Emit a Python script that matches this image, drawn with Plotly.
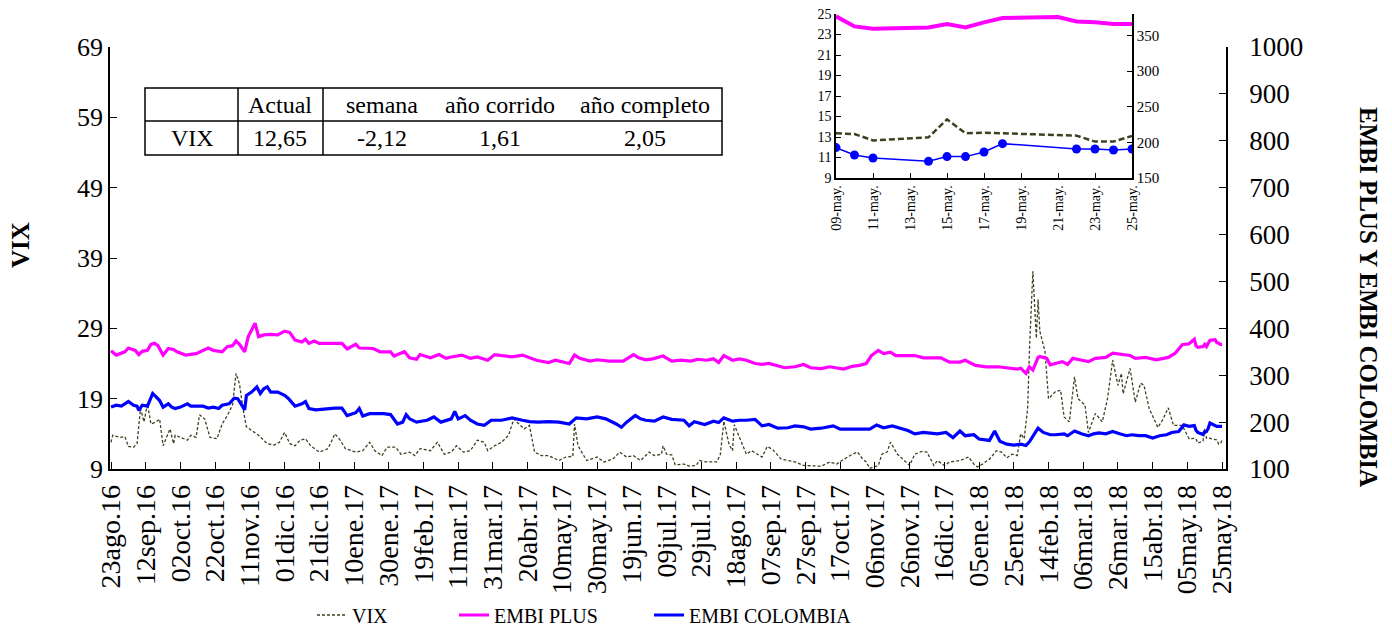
import pandas as pd
import plotly.graph_objects as go

# ---------------- data ----------------
BASE = "2016-08-23"  # day 0 of the series

embi_plus_day = [0, 3, 8, 10, 14, 16, 18, 21, 23, 25, 27, 30, 33, 36, 38, 43, 49, 53, 56, 59, 64, 67, 70, 72, 74, 77, 79, 83, 85, 88, 92, 96, 100, 103, 106, 110, 112, 114, 117, 120, 133, 136, 141, 143, 151, 155, 161, 163, 169, 172, 176, 178, 184, 189, 193, 196, 202, 207, 211, 217, 221, 231, 237, 245, 252, 256, 264, 267, 270, 276, 280, 287, 295, 301, 304, 308, 312, 318, 323, 328, 334, 338, 343, 347, 350, 353, 358, 362, 366, 371, 375, 379, 384, 388, 394, 399, 403, 409, 414, 418, 422, 427, 431, 435, 438, 442, 445, 449, 452, 463, 468, 478, 483, 489, 492, 498, 504, 511, 516, 522, 524, 527, 529, 531, 534, 535, 539, 541, 545, 548, 551, 554, 558, 563, 567, 573, 577, 583, 587, 590, 596, 602, 609, 613, 617, 621, 624, 625, 626, 629, 630, 631, 632, 633, 636, 637, 638, 639, 640]
embi_plus = [352, 343, 350, 358, 353, 344, 351, 353, 366, 368, 363, 343, 357, 355, 350, 343, 346, 353, 358, 353, 350, 361, 363, 373, 366, 350, 382, 411, 382, 386, 387, 386, 394, 391, 375, 371, 377, 368, 373, 368, 368, 356, 366, 358, 357, 350, 350, 341, 350, 337, 334, 344, 337, 344, 336, 339, 343, 336, 339, 332, 344, 339, 343, 332, 327, 332, 325, 343, 336, 330, 333, 330, 330, 344, 337, 333, 335, 341, 330, 332, 330, 334, 332, 335, 327, 342, 332, 335, 332, 325, 323, 325, 320, 316, 318, 323, 316, 314, 318, 316, 313, 319, 321, 325, 342, 353, 346, 349, 342, 342, 337, 337, 328, 328, 332, 321, 318, 318, 315, 313, 315, 304, 318, 311, 338, 340, 336, 322, 326, 329, 323, 336, 333, 329, 336, 338, 347, 344, 342, 336, 338, 333, 338, 347, 365, 367, 376.7, 362.6, 359.4, 361.2, 366.0, 361.2, 368.3, 374.4, 375.7, 369.6, 368.3, 366.0, 366.0]

embi_col_day = [0, 3, 6, 10, 13, 15, 16, 18, 21, 23, 24, 26, 28, 30, 33, 35, 37, 40, 44, 46, 49, 53, 56, 59, 62, 64, 68, 71, 73, 75, 77, 78, 81, 84, 86, 88, 90, 92, 96, 100, 102, 106, 110, 112, 114, 118, 125, 129, 133, 136, 141, 143, 145, 149, 157, 161, 165, 168, 170, 172, 176, 182, 186, 190, 196, 198, 200, 204, 207, 211, 215, 219, 225, 231, 237, 241, 246, 252, 258, 264, 268, 274, 280, 285, 291, 294, 297, 302, 305, 308, 313, 318, 323, 330, 333, 336, 342, 347, 350, 353, 358, 362, 366, 371, 375, 379, 384, 390, 394, 399, 403, 409, 416, 420, 427, 433, 437, 441, 445, 450, 455, 459, 463, 468, 476, 481, 485, 489, 492, 497, 500, 506, 509, 512, 516, 520, 524, 527, 529, 532, 534, 537, 541, 544, 549, 551, 555, 559, 563, 566, 569, 573, 577, 581, 585, 588, 592, 596, 600, 604, 608, 611, 615, 618, 621, 624, 625, 626, 629, 630, 631, 632, 633, 637, 638, 639, 640]
embi_col = [232, 236, 234, 244, 236, 234, 225, 236, 234, 250, 261, 254, 246, 232, 239, 232, 229, 232, 239, 234, 234, 234, 230, 232, 229, 236, 239, 251, 250, 239, 226, 257, 264, 275, 261, 271, 275, 264, 264, 257, 251, 234, 239, 244, 229, 226, 229, 230, 230, 214, 220, 229, 213, 218, 218, 216, 196, 200, 216, 207, 200, 204, 211, 200, 207, 223, 207, 214, 204, 196, 193, 204, 204, 209, 204, 201, 200, 201, 200, 196, 209, 207, 211, 207, 196, 189, 200, 214, 207, 204, 202, 211, 206, 204, 192, 201, 195, 202, 199, 209, 202, 204, 204, 206, 192, 195, 187, 188, 192, 190, 185, 187, 192, 185, 185, 185, 185, 194, 188, 192, 187, 182, 175, 178, 175, 178, 167, 181, 171, 173, 164, 161, 181, 159, 153, 151, 153, 150, 158, 175, 187, 178, 173, 173, 175, 171, 181, 175, 171, 175, 177, 175, 180, 175, 171, 173, 171, 171, 166, 171, 173, 178, 180, 194, 191, 192.6, 182.3, 178.1, 173.4, 180.0, 180.0, 186.5, 198.2, 190.7, 190.7, 189.3, 190.7]

vix_day = [0, 1, 5, 8, 10, 13, 15, 17, 19, 21, 23, 26, 28, 30, 32, 34, 36, 37, 40, 44, 46, 49, 51, 54, 57, 61, 64, 67, 70, 72, 74, 76, 78, 81, 85, 90, 94, 97, 100, 103, 106, 109, 112, 115, 120, 125, 129, 132, 135, 141, 145, 149, 152, 156, 159, 164, 167, 172, 175, 178, 184, 188, 192, 196, 199, 203, 207, 211, 215, 217, 221, 225, 229, 232, 235, 238, 241, 244, 248, 252, 258, 262, 266, 267, 269, 274, 280, 284, 289, 293, 297, 301, 305, 310, 313, 317, 318, 320, 323, 325, 330, 333, 337, 339, 343, 347, 349, 351, 353, 356, 358, 359, 362, 364, 366, 369, 372, 375, 378, 381, 386, 390, 394, 399, 405, 409, 414, 418, 421, 427, 430, 433, 435, 437, 442, 444, 447, 449, 453, 457, 460, 463, 467, 470, 474, 476, 480, 483, 489, 494, 497, 499, 502, 506, 510, 513, 516, 519, 522, 524, 526, 528, 529, 531, 533, 534, 535, 538, 540, 544, 547, 549, 552, 555, 557, 561, 563, 567, 571, 574, 577, 580, 582, 583, 587, 590, 593, 595, 598, 603, 606, 609, 612, 617, 621, 624, 625, 626, 629, 630, 631, 632, 633, 636, 637, 638, 639, 640]
vix = [12.8, 13.8, 13.5, 13.6, 12.2, 12.1, 12.6, 17.6, 15.7, 18.3, 15.4, 15.7, 16.1, 12.3, 13.5, 14.7, 12.6, 13.8, 13.5, 13.1, 13.8, 13.5, 16.7, 16.1, 13.5, 13.3, 15.4, 16.6, 18.1, 22.6, 21.1, 17.6, 15.0, 14.5, 13.8, 12.6, 12.4, 12.8, 14.2, 12.6, 12.3, 13.1, 13.3, 12.3, 11.4, 11.9, 14.0, 13.1, 11.9, 11.4, 11.6, 12.8, 11.6, 10.9, 12.1, 12.1, 11.1, 11.4, 10.9, 11.9, 11.6, 12.8, 11.1, 11.4, 12.3, 11.4, 11.6, 13.1, 12.8, 11.6, 12.3, 12.8, 13.8, 16.1, 15.4, 14.7, 15.2, 11.4, 10.9, 10.9, 10.2, 10.7, 10.8, 15.4, 12.3, 10.2, 10.7, 10.0, 10.4, 11.4, 10.7, 10.9, 10.2, 11.4, 10.9, 11.1, 12.3, 11.1, 11.0, 9.6, 9.7, 9.4, 9.5, 10.2, 10.0, 10.0, 10.0, 11.1, 15.8, 12.5, 11.6, 15.3, 13.5, 12.1, 11.1, 11.6, 11.1, 10.7, 12.2, 11.8, 10.4, 10.2, 10.0, 9.5, 9.5, 9.4, 10.0, 9.7, 10.2, 11.1, 11.4, 10.4, 10.0, 9.1, 9.5, 11.1, 11.4, 12.8, 11.1, 10.2, 9.5, 11.1, 11.5, 11.4, 9.5, 10.2, 9.5, 10.0, 10.2, 10.7, 9.7, 9.3, 9.7, 10.4, 11.6, 11.4, 10.6, 11.1, 10.9, 14.0, 13.3, 17.6, 25.7, 37.1, 27.6, 33.1, 28.6, 25.7, 19.0, 20.0, 20.2, 16.4, 15.7, 22.1, 19.0, 18.1, 14.2, 16.9, 15.7, 19.0, 24.5, 20.9, 22.6, 19.7, 23.3, 18.5, 21.2, 20.9, 17.6, 14.9, 16.1, 17.7, 15.2, 15.2, 13.3, 13.36, 13.29, 12.67, 12.97, 14.72, 13.36, 13.42, 13.36, 13.2, 13.13, 12.55, 12.55, 13.1]

x_tick_day = list(range(0, 641, 20))
x_tick_labels = ["23ago.16", "12sep.16", "02oct.16", "22oct.16", "11nov.16", "01dic.16", "21dic.16",
                 "10ene.17", "30ene.17", "19feb.17", "11mar.17", "31mar.17", "20abr.17", "10may.17",
                 "30may.17", "19jun.17", "09jul.17", "29jul.17", "18ago.17", "07sep.17", "27sep.17",
                 "17oct.17", "06nov.17", "26nov.17", "16dic.17", "05ene.18", "25ene.18", "14feb.18",
                 "06mar.18", "26mar.18", "15abr.18", "05may.18", "25may.18"]

inset_start = "2018-05-09"
inset_end = "2018-05-25"
inset_tick_dates = ["2018-05-09", "2018-05-11", "2018-05-13", "2018-05-15", "2018-05-17",
                    "2018-05-19", "2018-05-21", "2018-05-23", "2018-05-25"]
inset_tick_labels = ["09-may.", "11-may.", "13-may.", "15-may.", "17-may.",
                     "19-may.", "21-may.", "23-may.", "25-may."]

table_header = ["", "Actual", "semana", "año corrido", "año completo"]
table_row = ["VIX", "12,65", "-2,12", "1,61", "2,05"]

# ---------------- helpers ----------------
base = pd.Timestamp(BASE)
def to_dates(days):
    return [base + pd.Timedelta(days=int(d)) for d in days]

def subset(days, vals, start):
    s = pd.Timestamp(start)
    d = to_dates(days)
    pairs = [(a, b) for a, b in zip(d, vals) if a >= s]
    return [p[0] for p in pairs], [p[1] for p in pairs]

# figure geometry; the page draws the figure 8px in from the top-left corner
OFF = 8
W, H = 1392, 630
L, R, T, B = 110 - OFF, W - (1226 - OFF), 10 - OFF, H - (469 - OFF)
PW, PH = W - L - R, H - T - B
def px(sx):
    return (sx - OFF - L) / PW
def py(sy):
    return (H - B - (sy - OFF)) / PH

FONT = "Liberation Serif"
VIX_C = "#404020"
PLUS_C = "#ff00ff"
COL_C = "#0000ff"

fig = go.Figure()

# main chart
fig.add_trace(go.Scatter(x=to_dates(vix_day), y=vix, name="VIX", mode="lines",
                         line=dict(color=VIX_C, width=1.3, dash="3px,2px"),
                         xaxis="x", yaxis="y", legend="legend"))
fig.add_trace(go.Scatter(x=to_dates(embi_plus_day), y=embi_plus, name="EMBI PLUS", mode="lines",
                         line=dict(color=PLUS_C, width=3.2),
                         xaxis="x", yaxis="y2", legend="legend2"))
fig.add_trace(go.Scatter(x=to_dates(embi_col_day), y=embi_col, name="EMBI COLOMBIA", mode="lines",
                         line=dict(color=COL_C, width=3.2),
                         xaxis="x", yaxis="y2", legend="legend3"))

# inset chart
ix, iy = subset(vix_day, vix, inset_start)
fig.add_trace(go.Scatter(x=ix, y=iy, mode="lines", showlegend=False,
                         line=dict(color=VIX_C, width=2.5, dash="6px,3px"),
                         xaxis="x2", yaxis="y3"))
ix, iy = subset(embi_plus_day, embi_plus, inset_start)
fig.add_trace(go.Scatter(x=ix, y=iy, mode="lines", showlegend=False,
                         line=dict(color=PLUS_C, width=4),
                         xaxis="x2", yaxis="y4"))
ix, iy = subset(embi_col_day, embi_col, inset_start)
fig.add_trace(go.Scatter(x=ix, y=iy, mode="lines+markers", showlegend=False,
                         line=dict(color=COL_C, width=1.5),
                         marker=dict(color=COL_C, size=9),
                         xaxis="x2", yaxis="y4"))

axis_common = dict(showline=True, linecolor="black", linewidth=1.5, ticks="inside",
                   tickcolor="black", showgrid=False, zeroline=False, automargin=False,
                   ticklabeloverflow="allow")

legend_common = dict(orientation="h", yanchor="middle", xanchor="left",
                     font=dict(size=20, family=FONT), bgcolor="rgba(0,0,0,0)")

main_top = py(47)
fig.update_layout(
    width=W, height=H,
    margin=dict(l=L, r=R, t=T, b=B, autoexpand=False),
    paper_bgcolor="white", plot_bgcolor="white",
    font=dict(family=FONT, color="black"),
    xaxis=dict(domain=[0, 1], anchor="y", type="date",
               range=[base - pd.Timedelta(hours=14), base + pd.Timedelta(days=642, hours=6)],
               tickmode="array", tickvals=to_dates(x_tick_day), ticktext=x_tick_labels,
               tickangle=-90, tickfont=dict(size=28, family=FONT), ticklen=7,
               ticklabelstandoff=3, **axis_common),
    yaxis=dict(domain=[0, main_top], anchor="x", range=[9, 69], tick0=9, dtick=10,
               tickfont=dict(size=26, family=FONT), ticklen=7, **axis_common),
    yaxis2=dict(overlaying="y", side="right", anchor="x", range=[100, 1000], dtick=100,
                tickfont=dict(size=27, family=FONT), ticklen=7, ticklabelstandoff=16,
                **axis_common),
    xaxis2=dict(domain=[px(836), px(1132)], anchor="y3", type="date",
                range=[inset_start, inset_end],
                tickmode="array", tickvals=inset_tick_dates, ticktext=inset_tick_labels,
                tickangle=-90, tickfont=dict(size=14, family=FONT), ticklen=5, **axis_common),
    yaxis3=dict(domain=[py(178), py(14)], anchor="x2", range=[9, 25], tick0=9, dtick=2,
                tickfont=dict(size=14, family=FONT), ticklen=5, **axis_common),
    yaxis4=dict(overlaying="y3", side="right", anchor="x2", range=[150, 380],
                tickmode="array", tickvals=[150, 200, 250, 300, 350],
                tickfont=dict(size=15, family=FONT), ticklen=5, **axis_common),
    legend=dict(x=px(312), y=py(615), **legend_common),
    legend2=dict(x=px(454), y=py(615), **legend_common),
    legend3=dict(x=px(649), y=py(615), **legend_common),
    showlegend=True,
)

# axis titles
fig.add_annotation(text="<b>VIX</b>", x=px(20), y=py(245), xref="paper", yref="paper",
                   xanchor="center", yanchor="middle",
                   showarrow=False, textangle=-90, font=dict(size=25, family=FONT))
fig.add_annotation(text="<b>EMBI PLUS Y EMBI COLOMBIA</b>", x=px(1369), y=py(297),
                   xref="paper", yref="paper", xanchor="center", yanchor="middle",
                   showarrow=False, textangle=90, font=dict(size=25, family=FONT))

# table
tl, tr, tt, tm, tb = 145, 722, 88, 121, 155
line = dict(color="black", width=1.5)
fig.add_shape(type="rect", xref="paper", yref="paper", x0=px(tl), x1=px(tr), y0=py(tb), y1=py(tt),
              line=line, fillcolor="white", layer="above")
fig.add_shape(type="line", xref="paper", yref="paper", x0=px(tl), x1=px(tr), y0=py(tm), y1=py(tm), line=line)
for cx in (238, 323):
    fig.add_shape(type="line", xref="paper", yref="paper", x0=px(cx), x1=px(cx), y0=py(tb), y1=py(tt), line=line)
col_centers = [192, 280, 382, 500, 645]
for cx, h, v in zip(col_centers, table_header, table_row):
    if h:
        fig.add_annotation(text=h, x=px(cx), y=py((tt + tm) / 2), xref="paper", yref="paper",
                           xanchor="center", yanchor="middle",
                           showarrow=False, font=dict(size=24, family=FONT))
    fig.add_annotation(text=v, x=px(cx), y=py((tm + tb) / 2), xref="paper", yref="paper",
                       xanchor="center", yanchor="middle",
                       showarrow=False, font=dict(size=24, family=FONT))

fig.write_html("out.html")
